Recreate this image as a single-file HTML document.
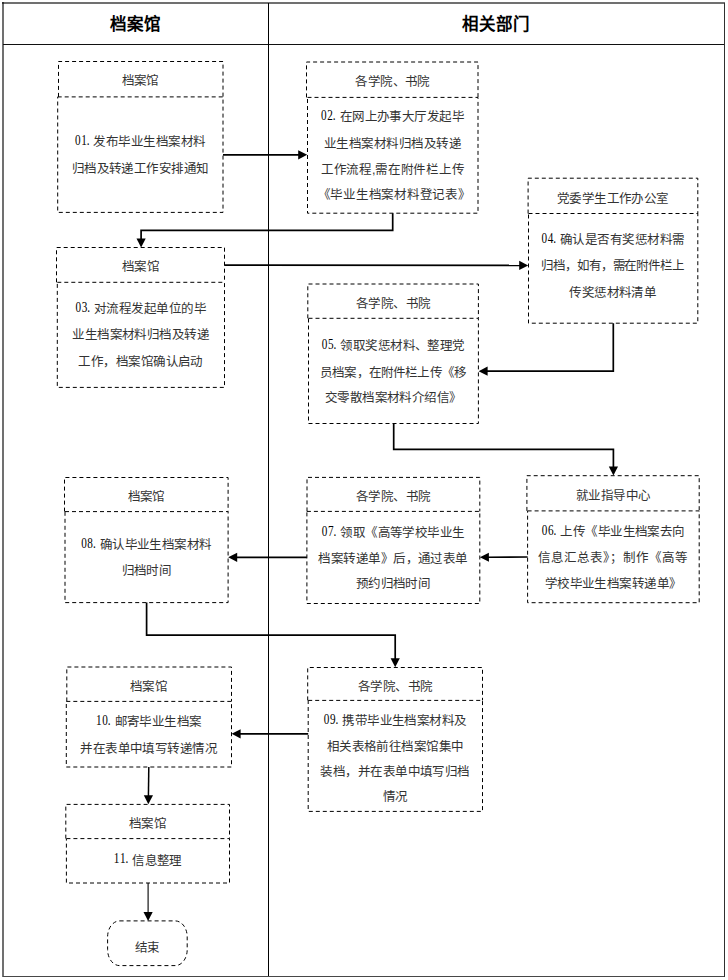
<!DOCTYPE html>
<html lang="zh-CN"><head><meta charset="utf-8">
<style>html,body{margin:0;padding:0;background:#fff;width:728px;height:980px;overflow:hidden}svg{position:absolute;left:0;top:0;display:block}.t{font-family:"Liberation Sans",sans-serif;font-size:12.5px;fill:#333}.h{font-family:"Liberation Sans",sans-serif;font-size:16.5px;font-weight:bold;fill:#000}.n{font-family:"Liberation Serif",serif;font-size:14px;fill:#000}.d{fill:none;stroke:#000;stroke-width:1;stroke-dasharray:4 3}.l{fill:none;stroke:#000;stroke-width:1.7}</style></head><body>
<svg width="728" height="980" viewBox="0 0 728 980">
<line x1="2" y1="3" x2="725" y2="3" stroke="#000" stroke-opacity="0.56" stroke-width="2"/>
<line x1="3" y1="2" x2="3" y2="977" stroke="#000" stroke-opacity="0.56" stroke-width="2"/>
<line x1="3" y1="976.5" x2="725" y2="976.5" stroke="#484848" stroke-width="1"/>
<line x1="724.5" y1="3" x2="724.5" y2="977" stroke="#303030" stroke-width="1"/>
<line x1="3" y1="44.5" x2="724" y2="44.5" stroke="#111" stroke-width="1"/>
<line x1="268.5" y1="3" x2="268.5" y2="976" stroke="#000" stroke-width="1"/>
<text class="h" x="135.5" y="23.5" text-anchor="middle" dominant-baseline="central">档案馆</text>
<text class="h" x="496" y="23.5" text-anchor="middle" dominant-baseline="central">相关部门</text>
<path class="d" d="M58.5,96.9 L58.5,61.5 L223.0,61.5 L223.0,96.9"/>
<rect class="d" x="57.7" y="96.9" width="165.3" height="115.5"/>
<text class="t" x="140.3" y="84.8" text-anchor="middle" textLength="37.5" lengthAdjust="spacing">档案馆</text>
<text class="t n" transform="translate(74.92,144.90) scale(0.8,1)" x="0.00 7.81 14.75">01.</text>
<text class="t" x="93.47" y="146.1" textLength="112.50" lengthAdjust="spacing">发布毕业生档案材料</text>
<text class="t" x="71.60" y="172.6" textLength="137.50" lengthAdjust="spacing">归档及转递工作安排通知</text>
<path class="d" d="M306.5,97.4 L306.5,62.0 L478.0,62.0 L478.0,97.4"/>
<rect class="d" x="307.5" y="97.4" width="170.5" height="115.8"/>
<text class="t" x="392.8" y="86.2" text-anchor="middle" textLength="75.0" lengthAdjust="spacing">各学院、书院</text>
<text class="t n" transform="translate(321.07,120.20) scale(0.8,1)" x="0.00 7.81 14.75">02.</text>
<text class="t" x="339.62" y="121.4" textLength="125.00" lengthAdjust="spacing">在网上办事大厅发起毕</text>
<text class="t" x="324.00" y="147.8" textLength="137.50" lengthAdjust="spacing">业生档案材料归档及转递</text>
<text class="t" x="320.88" y="174.1" textLength="143.75" lengthAdjust="spacing">工作流程,需在附件栏上传</text>
<text class="t" x="317.69" y="199.4" textLength="153.12" lengthAdjust="spacing">《毕业生档案材料登记表》</text>
<path class="d" d="M528.1,213.5 L528.1,178.2 L697.8,178.2 L697.8,213.5"/>
<rect class="d" x="528.5" y="213.5" width="169.3" height="109.7"/>
<text class="t" x="613.1" y="202.6" text-anchor="middle" textLength="112.5" lengthAdjust="spacing">党委学生工作办公室</text>
<text class="t n" transform="translate(541.48,243.10) scale(0.8,1)" x="0.00 7.81 14.75">04.</text>
<text class="t" x="560.02" y="244.3" textLength="125.00" lengthAdjust="spacing">确认是否有奖惩材料需</text>
<text class="t" x="541.27" y="270.4" textLength="143.75" lengthAdjust="spacing">归档，如有，需在附件栏上</text>
<text class="t" x="569.40" y="296.5" textLength="87.50" lengthAdjust="spacing">传奖惩材料清单</text>
<path class="d" d="M56.5,282.3 L56.5,247.5 L224.5,247.5 L224.5,282.3"/>
<rect class="d" x="57.3" y="282.3" width="167.2" height="105.1"/>
<text class="t" x="140.9" y="271.3" text-anchor="middle" textLength="37.5" lengthAdjust="spacing">档案馆</text>
<text class="t n" transform="translate(75.48,312.10) scale(0.8,1)" x="0.00 7.81 14.75">03.</text>
<text class="t" x="94.03" y="313.3" textLength="112.50" lengthAdjust="spacing">对流程发起单位的毕</text>
<text class="t" x="72.15" y="339.4" textLength="137.50" lengthAdjust="spacing">业生档案材料归档及转递</text>
<text class="t" x="78.40" y="365.5" textLength="125.00" lengthAdjust="spacing">工作，档案馆确认启动</text>
<path class="d" d="M307.8,318.3 L307.8,284.0 L478.4,284.0 L478.4,318.3"/>
<rect class="d" x="308.5" y="318.3" width="169.9" height="105.2"/>
<text class="t" x="393.4" y="308.1" text-anchor="middle" textLength="75.0" lengthAdjust="spacing">各学院、书院</text>
<text class="t n" transform="translate(321.77,348.90) scale(0.8,1)" x="0.00 7.81 14.75">05.</text>
<text class="t" x="340.32" y="350.1" textLength="125.00" lengthAdjust="spacing">领取奖惩材料、整理党</text>
<text class="t" x="320.01" y="376.8" textLength="146.88" lengthAdjust="spacing">员档案，在附件栏上传《移</text>
<text class="t" x="324.70" y="402.3" textLength="137.50" lengthAdjust="spacing">交零散档案材料介绍信》</text>
<path class="d" d="M526.9,510.9 L526.9,475.7 L699.2,475.7 L699.2,510.9"/>
<rect class="d" x="527.6" y="510.9" width="171.6" height="91.8"/>
<text class="t" x="613.4" y="500.1" text-anchor="middle" textLength="75.0" lengthAdjust="spacing">就业指导中心</text>
<text class="t n" transform="translate(541.73,535.20) scale(0.8,1)" x="0.00 7.81 14.75">06.</text>
<text class="t" x="560.28" y="536.4" textLength="125.00" lengthAdjust="spacing">上传《毕业生档案去向</text>
<text class="t" x="538.40" y="562.1" textLength="150.00" lengthAdjust="spacing">信息汇总表》；制作《高等</text>
<text class="t" x="544.65" y="587.5" textLength="137.50" lengthAdjust="spacing">学校毕业生档案转递单》</text>
<path class="d" d="M307.0,511.4 L307.0,477.4 L479.8,477.4 L479.8,511.4"/>
<rect class="d" x="306.9" y="511.4" width="172.9" height="92.1"/>
<text class="t" x="393.4" y="500.7" text-anchor="middle" textLength="75.0" lengthAdjust="spacing">各学院、书院</text>
<text class="t n" transform="translate(321.68,535.50) scale(0.8,1)" x="0.00 7.81 14.75">07.</text>
<text class="t" x="340.23" y="536.7" textLength="125.00" lengthAdjust="spacing">领取《高等学校毕业生</text>
<text class="t" x="318.35" y="562.5" textLength="150.00" lengthAdjust="spacing">档案转递单》后，通过表单</text>
<text class="t" x="355.85" y="587.5" textLength="75.00" lengthAdjust="spacing">预约归档时间</text>
<path class="d" d="M64.5,511.6 L64.5,477.5 L228.1,477.5 L228.1,511.6"/>
<rect class="d" x="65.0" y="511.6" width="163.1" height="91.0"/>
<text class="t" x="146.6" y="500.7" text-anchor="middle" textLength="37.5" lengthAdjust="spacing">档案馆</text>
<text class="t n" transform="translate(81.13,548.00) scale(0.8,1)" x="0.00 7.81 14.75">08.</text>
<text class="t" x="99.68" y="549.2" textLength="112.50" lengthAdjust="spacing">确认毕业生档案材料</text>
<text class="t" x="121.55" y="575.3" textLength="50.00" lengthAdjust="spacing">归档时间</text>
<path class="d" d="M307.7,700.4 L307.7,667.5 L482.5,667.5 L482.5,700.4"/>
<rect class="d" x="308.2" y="700.4" width="174.3" height="111.0"/>
<text class="t" x="395.4" y="690.9" text-anchor="middle" textLength="75.0" lengthAdjust="spacing">各学院、书院</text>
<text class="t n" transform="translate(323.68,723.50) scale(0.8,1)" x="0.00 7.81 14.75">09.</text>
<text class="t" x="342.23" y="724.7" textLength="125.00" lengthAdjust="spacing">携带毕业生档案材料及</text>
<text class="t" x="326.60" y="750.6" textLength="137.50" lengthAdjust="spacing">相关表格前往档案馆集中</text>
<text class="t" x="320.35" y="776.0" textLength="150.00" lengthAdjust="spacing">装档，并在表单中填写归档</text>
<text class="t" x="382.85" y="801.4" textLength="25.00" lengthAdjust="spacing">情况</text>
<path class="d" d="M66.8,701.4 L66.8,667.0 L231.5,667.0 L231.5,701.4"/>
<rect class="d" x="66.3" y="701.4" width="165.2" height="65.6"/>
<text class="t" x="148.9" y="690.9" text-anchor="middle" textLength="37.5" lengthAdjust="spacing">档案馆</text>
<text class="t n" transform="translate(95.98,724.90) scale(0.8,1)" x="0.00 7.81 14.75">10.</text>
<text class="t" x="114.53" y="726.1" textLength="87.50" lengthAdjust="spacing">邮寄毕业生档案</text>
<text class="t" x="80.15" y="752.5" textLength="137.50" lengthAdjust="spacing">并在表单中填写转递情况</text>
<path class="d" d="M65.8,838.6 L65.8,804.4 L229.5,804.4 L229.5,838.6"/>
<rect class="d" x="66.4" y="838.6" width="163.1" height="44.4"/>
<text class="t" x="147.9" y="827.7" text-anchor="middle" textLength="37.5" lengthAdjust="spacing">档案馆</text>
<text class="t n" transform="translate(113.77,863.40) scale(0.8,1)" x="0.00 7.81 14.75">11.</text>
<text class="t" x="132.32" y="864.6" textLength="50.00" lengthAdjust="spacing">信息整理</text>
<rect class="d" x="107.6" y="920.9" width="79.6" height="44.7" rx="12" ry="16"/>
<text class="t" x="147" y="951.6" text-anchor="middle" textLength="25" lengthAdjust="spacing">结束</text>
<path class="l" d="M223.00,154.80 L299.20,154.80" style="stroke-width:1.7"/>
<path d="M307.20,154.80 L298.20,159.40 L298.20,150.20 Z" fill="#000"/>
<path class="l" d="M392.70,213.20 L392.70,230.30 L141.10,230.30 L141.10,239.40" style="stroke-width:1.7"/>
<path d="M141.10,247.40 L136.50,238.40 L145.70,238.40 Z" fill="#000"/>
<path class="l" d="M224.50,265.20 L520.20,265.39" style="stroke-width:1.7"/>
<path d="M528.20,265.40 L519.20,269.99 L519.20,260.79 Z" fill="#000"/>
<path class="l" d="M613.30,323.20 L613.30,371.20 L486.60,371.20" style="stroke-width:1.7"/>
<path d="M478.60,371.20 L487.60,366.60 L487.60,375.80 Z" fill="#000"/>
<path class="l" d="M393.70,423.50 L393.70,449.30 L613.40,449.30 L613.40,467.50" style="stroke-width:1.7"/>
<path d="M613.40,475.50 L608.80,466.50 L618.00,466.50 Z" fill="#000"/>
<path class="l" d="M527.60,557.00 L487.90,557.25" style="stroke-width:1.7"/>
<path d="M479.90,557.30 L488.87,552.64 L488.93,561.84 Z" fill="#000"/>
<path class="l" d="M306.90,557.30 L236.20,557.30" style="stroke-width:1.7"/>
<path d="M228.20,557.30 L237.20,552.70 L237.20,561.90 Z" fill="#000"/>
<path class="l" d="M146.60,602.60 L146.60,635.10 L395.20,635.10 L395.20,659.30" style="stroke-width:1.7"/>
<path d="M395.20,667.30 L390.60,658.30 L399.80,658.30 Z" fill="#000"/>
<path class="l" d="M308.20,733.80 L239.60,733.80" style="stroke-width:1.7"/>
<path d="M231.60,733.80 L240.60,729.20 L240.60,738.40 Z" fill="#000"/>
<path class="l" d="M148.80,767.00 L148.41,796.20" style="stroke-width:1.5"/>
<path d="M148.30,804.20 L143.82,795.14 L153.02,795.26 Z" fill="#000"/>
<path class="l" d="M148.10,883.00 L148.10,912.90" style="stroke-width:1.1"/>
<path d="M148.10,920.90 L143.50,911.90 L152.70,911.90 Z" fill="#000"/>
</svg></body></html>
